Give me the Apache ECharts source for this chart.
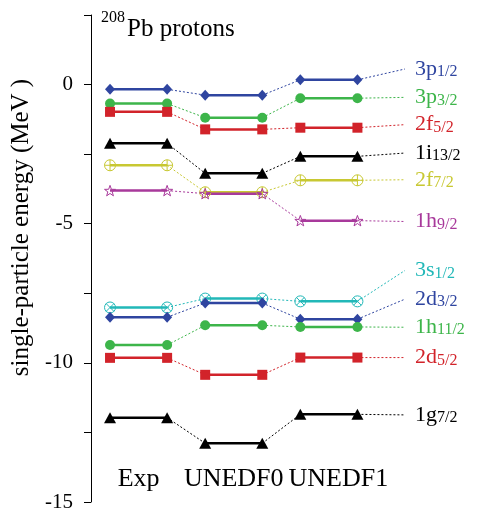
<!DOCTYPE html>
<html>
<head>
<meta charset="utf-8">
<script src="https://cdn.jsdelivr.net/npm/echarts@6/dist/echarts.min.js"></script>
<style>html,body{margin:0;padding:0;background:#fff}#c{width:480px;height:508px}</style>
</head>
<body>
<div id="c"></div>
<script>
// ---- data ----
const methods = ['Exp', 'UNEDF0', 'UNEDF1'];
const orbitalMain = ['3p', '3p', '2f', '1i', '2f', '1h', '3s', '2d', '1h', '2d', '1g'];
const orbitalSub  = ['1/2', '3/2', '5/2', '13/2', '7/2', '9/2', '1/2', '3/2', '11/2', '5/2', '7/2'];
const expE    = [-0.17, -0.68, -0.98, -2.11, -2.90, -3.81, -8.01, -8.36, -9.36, -9.82, -11.97];
const unedf0E = [-0.38, -1.19, -1.61, -3.19, -3.87, -3.92, -7.69, -7.85, -8.65, -10.43, -12.89];
const unedf1E = [0.17, -0.49, -1.55, -2.58, -3.44, -4.89, -7.79, -8.43, -8.71, -9.81, -11.85];
const labelE  = [0.56, -0.46, -1.44, -2.46, -3.42, -4.92, -6.68, -7.71, -8.72, -9.81, -11.87];
const yTicks = [-15, -10, -5, 0];

// ---- styles / layout ----
const FONT = 'Liberation Serif';
const BLUE = '#2f45a0', GREEN = '#3db54a', RED = '#d2232a', BLACK = '#000000',
      YELLOW = '#c8c832', MAGENTA = '#a8399b', CYAN = '#22b8b8';
const circPlus = 'path://M0,-10 A10,10 0 1,1 0,10 A10,10 0 1,1 0,-10 Z M-10,0 L10,0 M0,-10 L0,10';
const circX = 'path://M0,-10 A10,10 0 1,1 0,10 A10,10 0 1,1 0,-10 Z M-7.07,-7.07 L7.07,7.07 M-7.07,7.07 L7.07,-7.07';
const star = 'path://M0,-10 L2.35,-3.24 L9.51,-3.09 L3.8,1.24 L5.88,8.09 L0,4 L-5.88,8.09 L-3.8,1.24 L-9.51,-3.09 L-2.35,-3.24 Z';
const styles = [
  {c: BLUE, sym: 'diamond', size: [10, 11], fill: true},
  {c: GREEN, sym: 'circle', size: 10, fill: true},
  {c: RED, sym: 'rect', size: 10, fill: true},
  {c: BLACK, sym: 'triangle', size: [12, 11], fill: true},
  {c: YELLOW, sym: circPlus, size: 11, fill: false},
  {c: MAGENTA, sym: star, size: 11, fill: false},
  {c: CYAN, sym: circX, size: 11, fill: false},
  {c: BLUE, sym: 'diamond', size: [10, 11], fill: true},
  {c: GREEN, sym: 'circle', size: 10, fill: true},
  {c: RED, sym: 'rect', size: 10, fill: true},
  {c: BLACK, sym: 'triangle', size: [12, 11], fill: true}
];
const levelStart = [0.2, 1.2, 2.2];
const levelWidth = 0.6;
const labelX = 3.3;
const methodTick = [5, 15, 26]; // x positions of method labels, in tenths

const series = [];
const allE = [expE, unedf0E, unedf1E];
orbitalMain.forEach((m, i) => {
  const st = styles[i];
  const vals = allE.map(a => a[i]);
  const dotted = [];
  for (let k = 0; k < 3; k++) {
    const x0 = levelStart[k] + levelWidth;
    const x1 = k < 2 ? levelStart[k + 1] : labelX;
    const y1 = k < 2 ? vals[k + 1] : labelE[i];
    dotted.push([x0, vals[k]]);
    if (k < 2) {
      dotted.push([x1, y1]);
      dotted.push([x1, '-']);
    } else {
      dotted.push({
        value: [x1, y1],
        label: {
          show: true, position: 'right', distance: 10, color: st.c,
          formatter: '{m|' + m + '}{s|' + orbitalSub[i] + '}',
          rich: {
            m: {fontFamily: FONT, fontSize: 22, lineHeight: 22, color: st.c, verticalAlign: 'middle'},
            s: {fontFamily: FONT, fontSize: 16, lineHeight: 16, color: st.c, verticalAlign: 'bottom', padding: [17, 0, 0, 0]}
          }
        }
      });
    }
  }
  series.push({
    type: 'line', data: dotted, symbol: 'circle', symbolSize: 0.01, showSymbol: true,
    clip: false, z: 2,
    itemStyle: {color: st.c},
    lineStyle: {color: st.c, width: 1, type: [2, 2]},
    emphasis: {disabled: true}
  });
  const solid = [];
  for (let k = 0; k < 3; k++) {
    solid.push([levelStart[k], vals[k]]);
    solid.push([levelStart[k] + levelWidth, vals[k]]);
    if (k < 2) solid.push([levelStart[k] + levelWidth + 0.1, '-']);
  }
  series.push({
    type: 'line', data: solid, symbol: st.sym, symbolSize: st.size, symbolKeepAspect: true,
    showSymbol: true, clip: false, z: 3,
    itemStyle: st.fill ? {color: st.c} : {color: 'rgba(255,255,255,0)', borderColor: st.c, borderWidth: 1},
    lineStyle: {color: st.c, width: 2.5},
    emphasis: {disabled: true}
  });
});

const chart = echarts.init(document.getElementById('c'), null, {renderer: 'canvas'});
chart.setOption({
  animation: false,
  backgroundColor: '#ffffff',
  textStyle: {fontFamily: FONT},
  title: {
    text: '{a|208}{b|Pb protons}',
    left: 101, top: 10, padding: 0,
    textStyle: {
      fontWeight: 'normal',
      rich: {
        a: {fontFamily: FONT, fontSize: 16, lineHeight: 16, fontWeight: 'normal', verticalAlign: 'top', color: '#000', padding: [0, 2, 0, 0]},
        b: {fontFamily: FONT, fontSize: 25, lineHeight: 30, fontWeight: 'normal', color: '#000', padding: [9, 0, 0, 0]}
      }
    }
  },
  grid: {left: 91, right: 75, top: 15, bottom: 6, containLabel: false, outerBoundsMode: 'none'},
  xAxis: {
    type: 'value', min: 0, max: labelX, interval: 0.1,
    axisLine: {show: false}, axisTick: {show: false}, splitLine: {show: false},
    axisLabel: {
      inside: true, margin: 10, fontFamily: FONT, fontSize: 26, color: '#000',
      formatter: v => { const k = methodTick.indexOf(Math.round(v * 10)); return k >= 0 ? methods[k] : ''; }
    }
  },
  yAxis: {
    type: 'value', min: -15, max: 2.5, interval: 2.5,
    name: 'single-particle energy (MeV )', nameLocation: 'middle', nameGap: 47,
    nameTextStyle: {fontFamily: FONT, fontSize: 25, color: '#000', padding: [0, 0, 0, 62]},
    axisLine: {show: true, lineStyle: {color: '#000', width: 1}},
    axisTick: {show: true, inside: false, length: 7, lineStyle: {color: '#000'}},
    splitLine: {show: false},
    axisLabel: {
      margin: 18, fontFamily: FONT, fontSize: 21, color: '#000',
      formatter: v => yTicks.indexOf(v) >= 0 ? String(v) : ''
    }
  },
  series: series
});
</script>
</body>
</html>
